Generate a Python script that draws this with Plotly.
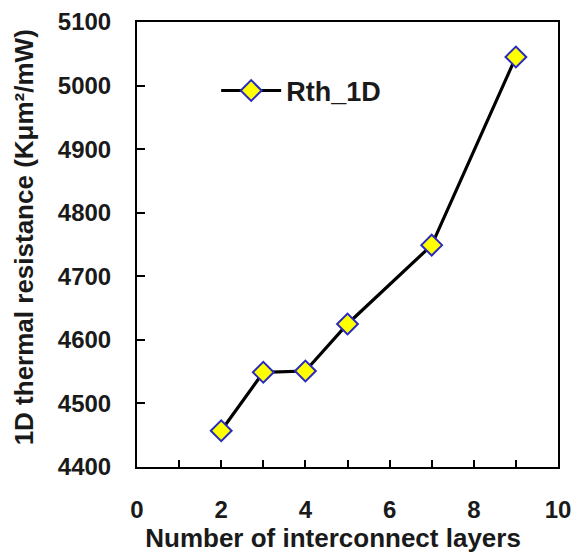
import plotly.graph_objects as go

layers = [2, 3, 4, 5, 7, 9]
rth_1d = [4457, 4549, 4551, 4625, 4749, 5045]
series_name = "Rth_1D"
x_title = "Number of interconnect layers"
y_title = "1D thermal resistance (Kμm²/mW)"

font_family = "Liberation Sans, Arial, sans-serif"
pad = "&nbsp;"

fig = go.Figure()
fig.add_trace(go.Scatter(
    x=layers, y=rth_1d, name="<b>" + series_name + "</b>", mode="lines+markers",
    line=dict(color="black", width=3.2),
    marker=dict(symbol="diamond", size=16, color="#ffff00",
                line=dict(color="#2a2ac0", width=2)),
))

fig.update_layout(
    width=574, height=554,
    margin=dict(l=137, r=16, t=22, b=87),
    paper_bgcolor="white", plot_bgcolor="white",
    font=dict(family=font_family, size=24, color="#1a1a1a"),
    showlegend=True,
    legend=dict(x=0.188, y=0.845, xanchor="left", yanchor="middle",
                bgcolor="rgba(0,0,0,0)", font=dict(size=27, family=font_family),
                itemwidth=60),
)
fig.update_xaxes(
    range=[0, 10], dtick=2, tick0=0, automargin=False,
    showline=True, linecolor="black", linewidth=2, mirror=True,
    ticks="inside", ticklen=7, tickwidth=1.5, tickcolor="black",
    minor=dict(dtick=1, ticks="inside", ticklen=7, tickwidth=1.5, tickcolor="black"),
    showgrid=False, zeroline=False,
    tickfont=dict(size=24, family=font_family),
    ticklabelstandoff=20,
    title=dict(text="<b>" + x_title + pad * 4 + "</b>", font=dict(size=26), standoff=5),
    tickprefix="<b>", ticksuffix="</b>",
)
fig.update_yaxes(
    range=[4400, 5100], dtick=100, automargin=False,
    showline=True, linecolor="black", linewidth=2, mirror=True,
    ticks="inside", ticklen=8, tickwidth=1.5, tickcolor="black",
    showgrid=False, zeroline=False,
    tickfont=dict(size=24, family=font_family),
    ticklabelstandoff=19,
    title=dict(text="<b>" + pad * 2 + y_title + "</b>", font=dict(size=26), standoff=17),
    tickprefix="<b>", ticksuffix="</b>",
)

fig.write_html("out.html", config={"displayModeBar": False},
               post_script="document.body.style.margin='0';")
